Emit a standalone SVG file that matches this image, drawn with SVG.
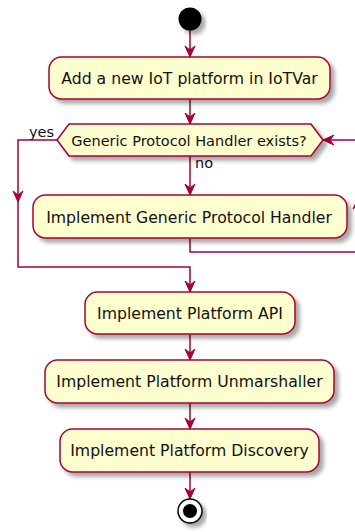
<svg xmlns="http://www.w3.org/2000/svg" xmlns:xlink="http://www.w3.org/1999/xlink" width="355" height="532" viewBox="0 0 355 532">
<style>
.box{fill:#FEFECE;stroke:#A80036;stroke-width:1.5}
.ln{fill:none;stroke:#A80036;stroke-width:1.5}
.ah{fill:#A80036;stroke:#A80036;stroke-width:1}
.t{font-family:"DejaVu Sans",sans-serif;font-size:15.7px;fill:#111;text-anchor:middle}
.s{font-family:"DejaVu Sans",sans-serif;font-size:14.5px;fill:#111}
</style>
<defs>
<filter id="sh" x="-10%" y="-20%" width="130%" height="160%">
<feGaussianBlur in="SourceAlpha" stdDeviation="2"/>
<feOffset dx="4" dy="4" result="b"/>
<feComponentTransfer><feFuncA type="linear" slope="0.35"/></feComponentTransfer>
<feMerge><feMergeNode/><feMergeNode in="SourceGraphic"/></feMerge>
</filter>
<path id="arr" d="M0,0 L-5,-11 L0,-7 L5,-11 Z"/>
</defs>
<g id="connectors">
<path class="ln" d="M190,30 V57"/>
<use href="#arr" class="ah" transform="translate(190,57)"/>
<path class="ln" d="M190,99 V124"/>
<use href="#arr" class="ah" transform="translate(190,124)"/>
<path class="ln" d="M190,156 V195"/>
<use href="#arr" class="ah" transform="translate(190,195)"/>
<text class="s" x="195" y="168">no</text>
<path class="ln" d="M57,140 H18 V267 H190 V292"/>
<use href="#arr" class="ah" transform="translate(18,202)"/>
<use href="#arr" class="ah" transform="translate(190,292)"/>
<text class="s" x="29" y="137">yes</text>
<path class="ln" d="M190,238 V252 H358 V140 H323"/>
<use href="#arr" class="ah" transform="translate(358,198) rotate(180)"/>
<use href="#arr" class="ah" transform="translate(323,140) rotate(90)"/>
<path class="ln" d="M190,334 V360"/>
<use href="#arr" class="ah" transform="translate(190,360)"/>
<path class="ln" d="M190,403 V429"/>
<use href="#arr" class="ah" transform="translate(190,429)"/>
<path class="ln" d="M190,472 V499"/>
<use href="#arr" class="ah" transform="translate(190,499)"/>
</g>
<g id="start"><circle cx="190" cy="19" r="11.5" fill="#000" filter="url(#sh)"/></g>
<g id="n1"><rect class="box" x="49" y="57" width="281" height="42" rx="12.5" filter="url(#sh)"/><text class="t" x="189.5" y="84">Add a new IoT platform in IoTVar</text></g>
<g id="d1"><polygon class="box" points="57,140 69,124 311,124 323,140 311,156 69,156" filter="url(#sh)"/><text class="s" x="189" y="145.5" text-anchor="middle">Generic Protocol Handler exists?</text></g>
<g id="n2"><rect class="box" x="33" y="195" width="314" height="43" rx="12.5" filter="url(#sh)"/><text class="t" x="189" y="222.5">Implement Generic Protocol Handler</text></g>
<g id="n3"><rect class="box" x="85" y="292" width="210" height="42" rx="12.5" filter="url(#sh)"/><text class="t" x="190" y="319">Implement Platform API</text></g>
<g id="n4"><rect class="box" x="45" y="360" width="289" height="43" rx="12.5" filter="url(#sh)"/><text class="t" x="189.5" y="387">Implement Platform Unmarshaller</text></g>
<g id="n5"><rect class="box" x="60" y="429" width="259" height="43" rx="12.5" filter="url(#sh)"/><text class="t" x="189.5" y="456">Implement Platform Discovery</text></g>
<g id="end"><circle cx="190" cy="511" r="12" fill="#fff" stroke="#000" stroke-width="1.5" filter="url(#sh)"/><circle cx="190" cy="511" r="7" fill="#000"/></g>
</svg>
